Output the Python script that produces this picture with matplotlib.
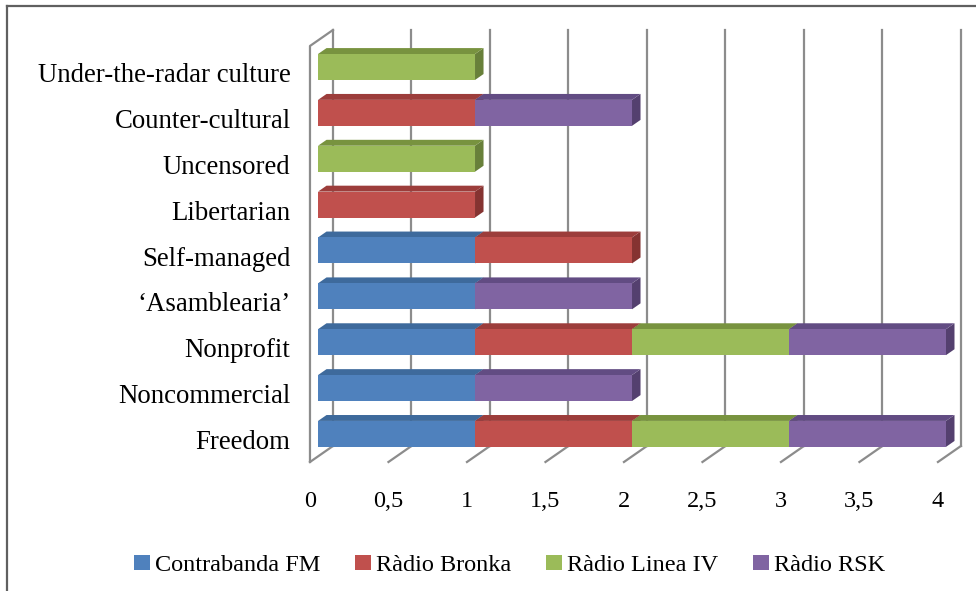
import matplotlib
matplotlib.use("Agg")
import matplotlib.pyplot as plt
from matplotlib.patches import Polygon, Patch
from matplotlib.lines import Line2D

# data (bottom to top as drawn)
categories = ["Freedom", "Noncommercial", "Nonprofit", "\u2018Asamblearia\u2019", "Self-managed",
              "Libertarian", "Uncensored", "Counter-cultural", "Under-the-radar culture"]
series_names = ["Contrabanda FM", "R\u00e0dio Bronka", "R\u00e0dio Linea IV", "R\u00e0dio RSK"]
contrabanda = [1, 1, 1, 1, 1, 0, 0, 0, 0]
bronka = [1, 0, 1, 0, 1, 1, 0, 1, 0]
linea = [1, 0, 1, 0, 0, 0, 1, 0, 1]
rsk = [1, 1, 1, 1, 0, 0, 0, 1, 0]
x_ticks = [0, 0.5, 1, 1.5, 2, 2.5, 3, 3.5, 4]
x_labels = ["0", "0,5", "1", "1,5", "2", "2,5", "3", "3,5", "4"]

front_cols = ["#4F81BD", "#C0504D", "#9BBB59", "#8064A2"]
top_cols = ["#3E6A9C", "#9C3D3B", "#78933F", "#624C83"]
side_cols = ["#345A86", "#853331", "#68803A", "#54406F"]

FONT = "Liberation Serif"
GRID = "#8C8C8C"

fig = plt.figure(figsize=(9.76, 5.91), dpi=100)
ax = fig.add_axes([0.3176, 0.2183, 0.6434, 0.7039])
ax.set_xlim(0, 4)
ax.set_ylim(-0.49, 8.58)
for s in ax.spines.values():
    s.set_visible(False)

# depth vector (pixels) converted to data units
DX, DY = 23, 16
px_x = fig.get_figwidth() * fig.dpi * 0.6434 / 4.0
px_y = fig.get_figheight() * fig.dpi * 0.7039 / (8.58 + 0.49)
ddx, ddy = DX / px_x, DY / px_y
y0, y1 = ax.get_ylim()


def dpt(x, y, d):
    return (x + ddx * d, y + ddy * d)


# walls and floor
for t in x_ticks:
    ax.add_line(Line2D(*zip(dpt(t, y0, 1), dpt(t, y1, 1)), color=GRID, lw=1.6, zorder=1, clip_on=False))
    ax.add_line(Line2D(*zip(dpt(t, y0, 0), dpt(t, y0, 1)), color=GRID, lw=1.6, zorder=1, clip_on=False))
ax.add_line(Line2D(*zip(dpt(0, y0, 0), dpt(0, y1, 0), dpt(0, y1, 1)), color=GRID, lw=1.6,
                   zorder=1, clip_on=False))

# stacked 3D bars
series = [contrabanda, bronka, linea, rsk]
h = 0.283
d0, d1 = 0.35, 0.72
z = 2
for i in range(len(categories)):
    left = 0
    for k, vals in enumerate(series):
        v = vals[i]
        if v == 0:
            continue
        xa, xb = left, left + v
        lo, hi = i - h, i + h
        front = [dpt(xa, lo, d0), dpt(xb, lo, d0), dpt(xb, hi, d0), dpt(xa, hi, d0)]
        top = [dpt(xa, hi, d0), dpt(xb, hi, d0), dpt(xb, hi, d1), dpt(xa, hi, d1)]
        side = [dpt(xb, lo, d0), dpt(xb, lo, d1), dpt(xb, hi, d1), dpt(xb, hi, d0)]
        ax.add_patch(Polygon(side, closed=True, fc=side_cols[k], ec="none", zorder=z, clip_on=False))
        ax.add_patch(Polygon(top, closed=True, fc=top_cols[k], ec="none", zorder=z, clip_on=False))
        ax.add_patch(Polygon(front, closed=True, fc=front_cols[k], ec="none", zorder=z, clip_on=False))
        z += 1
        left = xb

ax.set_yticks(range(len(categories)))
ax.set_yticklabels(categories, fontsize=19.3, family=FONT)
ax.set_xticks(x_ticks)
ax.set_xticklabels(x_labels, fontsize=17.5, family=FONT)
ax.tick_params(axis="y", length=0, pad=14)
ax.tick_params(axis="x", length=0, pad=21)

handles = [Patch(fc=c, ec="none") for c in front_cols]
fig.legend(handles, series_names, loc="center", bbox_to_anchor=(0.522, 0.043), ncol=4,
           frameon=False, prop={"family": FONT, "size": 17.5}, handlelength=0.65, handleheight=0.6,
           handletextpad=0.2, columnspacing=1.45)

# outer frame (top and left edges visible)
fig.add_artist(Line2D([7 / 976, 1], [1 - 6 / 591, 1 - 6 / 591], color="#606060", lw=1.6))
fig.add_artist(Line2D([7 / 976, 7 / 976], [0, 1 - 6 / 591], color="#606060", lw=1.6))

fig.savefig("out.png", dpi=100, facecolor="white")
